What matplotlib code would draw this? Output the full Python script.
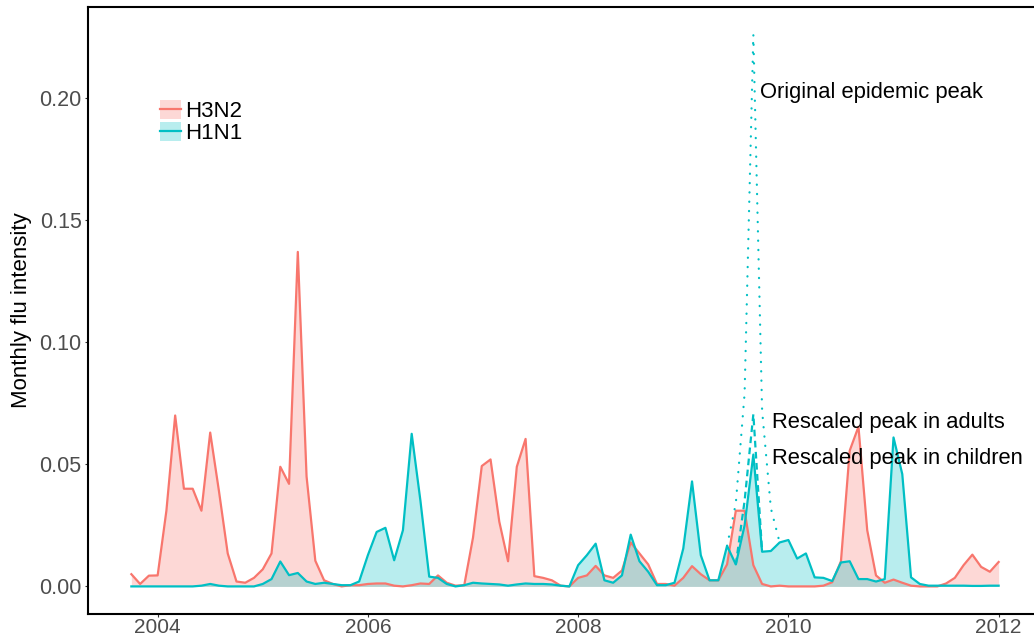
import numpy as np
import matplotlib
matplotlib.use('Agg')
import matplotlib.pyplot as plt
from matplotlib.patches import Patch
from matplotlib.lines import Line2D
from matplotlib.legend_handler import HandlerTuple

plt.rcParams['font.family'] = ['Liberation Sans', 'DejaVu Sans']

# Meses: out/2003 a jan/2012 (anos decimais)
meses = 2003.75 + np.arange(100) / 12

h3n2 = [0.005, 0.001, 0.0044, 0.0045, 0.031, 0.070, 0.040, 0.040, 0.031, 0.063,
        0.039, 0.0135, 0.002, 0.0015, 0.0035, 0.007, 0.0135, 0.049, 0.042, 0.137,
        0.045, 0.0105, 0.0025, 0.001, 0.0, 0.0005, 0.0005, 0.001, 0.0012, 0.0012,
        0.0003, 0.0, 0.0005, 0.0012, 0.001, 0.0045, 0.0015, 0.0003, 0.0005, 0.02,
        0.0493, 0.052, 0.0265, 0.0103, 0.049, 0.0604, 0.0042, 0.0035, 0.0025, 0.0003,
        0.0, 0.0035, 0.0045, 0.0084, 0.0045, 0.0035, 0.0065, 0.018, 0.0135, 0.009,
        0.001, 0.001, 0.0003, 0.0035, 0.0083, 0.005, 0.0025, 0.0025, 0.009, 0.031,
        0.031, 0.0087, 0.001, 0.0, 0.0003, 0.0, 0.0, 0.0, 0.0, 0.0003,
        0.0017, 0.0103, 0.0556, 0.0654, 0.023, 0.0045, 0.0015, 0.0028, 0.0015, 0.0003,
        0.0, 0.0, 0.0, 0.0012, 0.0035, 0.0087, 0.013, 0.008, 0.006, 0.010]

h1n1 = [0, 0, 0, 0, 0, 0, 0, 0, 0.0003, 0.001,
        0.0003, 0, 0, 0, 0, 0.001, 0.003, 0.0102, 0.0046, 0.0055,
        0.002, 0.001, 0.0015, 0.001, 0.0005, 0.0005, 0.002, 0.0128, 0.0223, 0.024,
        0.0107, 0.023, 0.0625, 0.035, 0.004, 0.0035, 0.001, 0.0, 0.0005, 0.0015,
        0.0012, 0.001, 0.0008, 0.0003, 0.0008, 0.0012, 0.001, 0.001, 0.0008, 0.0003,
        0.0, 0.0087, 0.0128, 0.0175, 0.0025, 0.0015, 0.0045, 0.0212, 0.0103, 0.006,
        0.0005, 0.0005, 0.0015, 0.0155, 0.043, 0.0128, 0.0025, 0.0025, 0.0166, 0.009,
        0.025, 0.054, 0.0142, 0.0145, 0.018, 0.019, 0.0114, 0.0135, 0.0037, 0.0035,
        0.0022, 0.0098, 0.0103, 0.003, 0.003, 0.002, 0.003, 0.061, 0.046, 0.0037,
        0.001, 0.0003, 0.0003, 0.0003, 0.0003, 0.0003, 0.0002, 0.0002, 0.0003, 0.0003]

# Pico pandêmico 2009 (índices 68-74 e 69-72)
pico_original = [0.0166, 0.034, 0.079, 0.226, 0.072, 0.032, 0.018]
pico_adultos = [0.009, 0.035, 0.0705, 0.0142]
meses_original = meses[68:75]
meses_adultos = meses[69:73]

cor_h3 = '#F8766D'
cor_h1 = '#00BFC4'

fig = plt.figure(figsize=(10.34, 6.38), dpi=100)
ax = fig.add_axes([88 / 1034, 24 / 638, 954 / 1034, 607 / 638])

ax.fill_between(meses, 0, h3n2, color=cor_h3, alpha=0.28, linewidth=0)
ax.fill_between(meses, 0, h1n1, color=cor_h1, alpha=0.28, linewidth=0)
ax.plot(meses, h3n2, color=cor_h3, linewidth=1.6)
ax.plot(meses, h1n1, color=cor_h1, linewidth=1.6)

ax.plot(meses_original, pico_original, color=cor_h1, linewidth=1.6,
        linestyle=(0, (0.1, 4.1)), dash_capstyle='round')
ax.plot(meses_adultos, pico_adultos, color=cor_h1, linewidth=1.6,
        linestyle=(0, (3, 2)))

ax.text(2009.73, 0.200, 'Original epidemic peak', fontsize=15.8, va='baseline', ha='left')
ax.text(2009.84, 0.065, 'Rescaled peak in adults', fontsize=15.8, va='baseline', ha='left')
ax.text(2009.84, 0.050, 'Rescaled peak in children', fontsize=15.8, va='baseline', ha='left')

ax.set_xlim(2003.3375, 2012.4125)
ax.set_ylim(-0.0113, 0.2373)
ax.set_xticks([2004, 2006, 2008, 2010, 2012])
ax.set_xticklabels(['2004', '2006', '2008', '2010', '2012'])
ax.set_yticks([0.0, 0.05, 0.10, 0.15, 0.20])
ax.set_yticklabels(['0.00', '0.05', '0.10', '0.15', '0.20'])
ax.tick_params(length=2.5, width=0.8, color='#333333', labelcolor='#4D4D4D',
               labelsize=15.5, pad=2)
ax.tick_params(axis='x', labelsize=15, pad=0.5)
ax.set_ylabel('Monthly flu intensity', fontsize=16, labelpad=5)

for lado in ['left', 'bottom', 'top']:
    ax.spines[lado].set_linewidth(1.5)
ax.spines['right'].set_visible(False)

handles = [(Patch(facecolor=cor_h3, alpha=0.28, linewidth=0), Line2D([], [], color=cor_h3, linewidth=1.6)),
           (Patch(facecolor=cor_h1, alpha=0.28, linewidth=0), Line2D([], [], color=cor_h1, linewidth=1.6))]
ax.legend(handles, ['H3N2', 'H1N1'], handler_map={tuple: HandlerTuple(ndivide=1)},
          loc='upper left', bbox_to_anchor=(160 / 1034, 1 - 100 / 638),
          bbox_transform=fig.transFigure, frameon=False, fontsize=16,
          handlelength=0.95, handleheight=0.95, handletextpad=0.2,
          labelspacing=0.0, borderpad=0, borderaxespad=0)

fig.savefig('out.png', dpi=100)
